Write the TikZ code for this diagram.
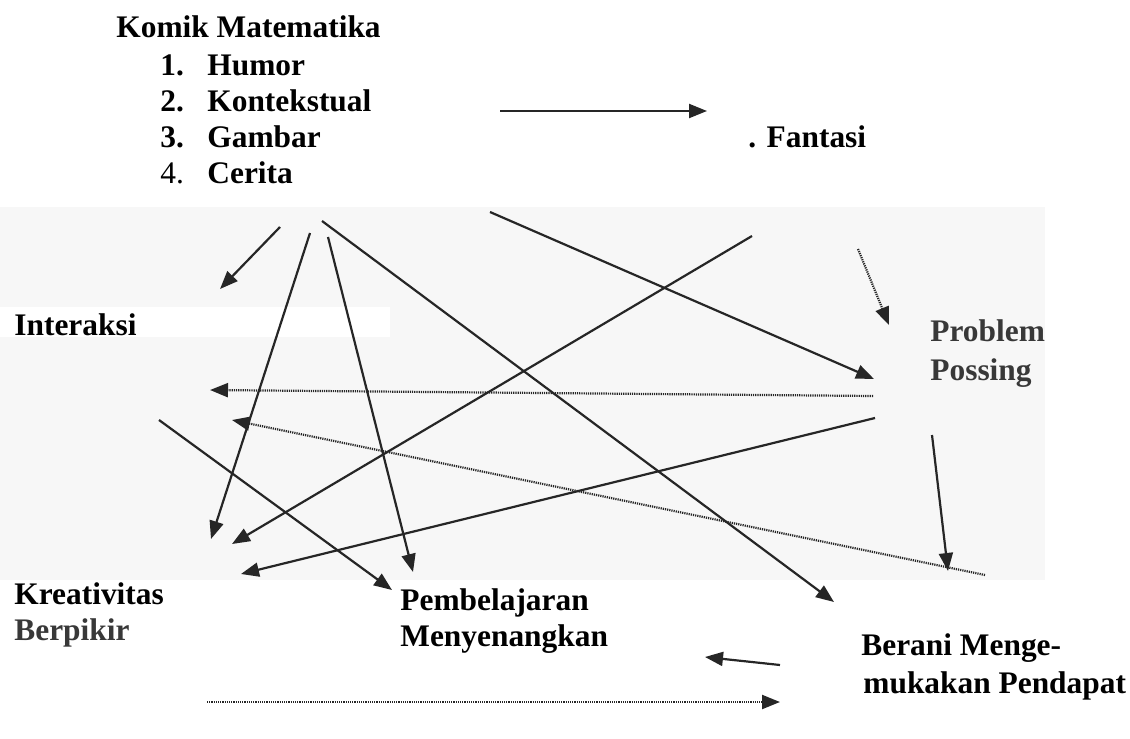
\documentclass[tikz,border=0pt]{standalone}
\usepackage{fontspec}
\setmainfont{Liberation Serif}
\usetikzlibrary{arrows.meta}
\begin{document}
\begin{tikzpicture}[x=0.5pt,y=-0.5pt,
  lbl/.style={anchor=base west, inner sep=0pt, font=\fontsize{15.7}{18}\selectfont\bfseries},
  graylbl/.style={lbl, text=black!78},
  conn/.style={line width=1.1pt, draw=black!85, -{Triangle[length=9pt,width=7pt]}},
  dotconn/.style={line width=1.1pt, draw=black!85, dash pattern=on 0.6pt off 0.5pt, -{Triangle[length=9pt,width=7pt]}}]
\useasboundingbox (0,0) rectangle (1130,739);
% faint panel behind the arrows
\fill[black!3] (0,207) rectangle (1045,580);
\fill[white] (0,307) rectangle (390,337);

% labels
\node[lbl] (komik) at (116,37) {Komik Matematika};
\node[lbl] (humor) at (160,75) {\makebox[23.5pt][l]{1.}Humor};
\node[lbl] (konteks) at (160,111) {\makebox[23.5pt][l]{2.}Kontekstual};
\node[lbl] (gambar) at (160,147) {\makebox[23.5pt][l]{3.}Gambar};
\node[lbl] (cerita) at (160,183) {\makebox[23.5pt][l]{\mdseries 4.}Cerita};
\node[lbl] (fantasi) at (748,147) {. Fantasi};
\node[lbl] (interaksi) at (14,335) {Interaksi};
\node[graylbl] (problem) at (930,341) {Problem};
\node[graylbl] (possing) at (930,380) {Possing};
\node[lbl] (kreat) at (14,604) {Kreativitas};
\node[graylbl] (berpikir) at (14,640) {Berpikir};
\node[lbl] (pemb) at (400,610) {Pembelajaran};
\node[lbl] (menyen) at (400,646) {Menyenangkan};
\node[lbl] (berani) at (861,655) {Berani Menge-};
\node[lbl] (mukakan) at (863,693) {mukakan Pendapat};

% connector end points
\coordinate (f1) at (500,111);   \coordinate (f2) at (707,111);
\coordinate (a1) at (280,227);   \coordinate (a2) at (220,289);
\coordinate (b1) at (310,233);   \coordinate (b2) at (211,539);
\coordinate (c1) at (328,237);   \coordinate (c2) at (413,572);
\coordinate (d1) at (322,221);   \coordinate (d2) at (834,602);
\coordinate (e1) at (490,212);   \coordinate (e2) at (874,379);
\coordinate (g1) at (752,236);   \coordinate (g2) at (232,544);
\coordinate (h1) at (875,418);   \coordinate (h2) at (241,574);
\coordinate (k1) at (159,420);   \coordinate (k2) at (392,590);
\coordinate (m1) at (932,435);   \coordinate (m2) at (948,571);
\coordinate (n1) at (780,665);   \coordinate (n2) at (705,657);
\coordinate (p1) at (858,249);   \coordinate (p2) at (889,325);
\coordinate (q1) at (873,396);   \coordinate (q2) at (210,390);
\coordinate (r1) at (985,575);   \coordinate (r2) at (232,420);
\coordinate (s1) at (207,702);   \coordinate (s2) at (780,702);

% solid connectors
\draw[conn] (f1) -- (f2);
\draw[conn] (a1) -- (a2);
\draw[conn] (b1) -- (b2);
\draw[conn] (c1) -- (c2);
\draw[conn] (d1) -- (d2);
\draw[conn] (e1) -- (e2);
\draw[conn] (g1) -- (g2);
\draw[conn] (h1) -- (h2);
\draw[conn] (k1) -- (k2);
\draw[conn] (m1) -- (m2);
\draw[conn] (n1) -- (n2);

% dotted connectors
\draw[dotconn] (p1) -- (p2);
\draw[dotconn] (q1) -- (q2);
\draw[dotconn] (r1) -- (r2);
\draw[dotconn] (s1) -- (s2);
\end{tikzpicture}
\end{document}
